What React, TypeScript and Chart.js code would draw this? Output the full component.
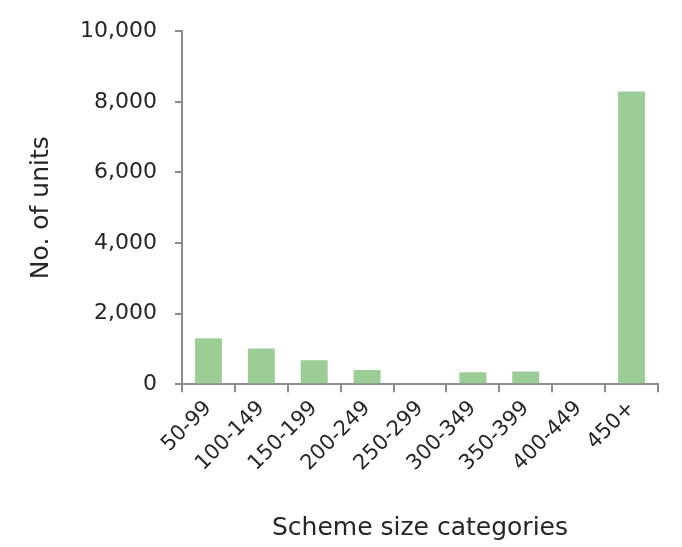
import React, { useEffect, useRef } from "react";
import { Chart, registerables } from "chart.js";

Chart.register(...registerables);

const categories = ["50-99", "100-149", "150-199", "200-249", "250-299", "300-349", "350-399", "400-449", "450+"];
const units = [1300, 1010, 680, 400, 0, 340, 355, 0, 8290];
const yTicks = [0, 2000, 4000, 6000, 8000, 10000];

const FONT = "'DejaVu Sans', sans-serif";
const TEXT = "#262626";
const AXIS = "#8c8c8c";

export default function App() {
  const ref = useRef<HTMLCanvasElement | null>(null);
  useEffect(() => {
    document.body.style.margin = "0";
    if (!ref.current) return;
    const chart = new Chart(ref.current, {
      type: "bar",
      data: {
        labels: categories,
        datasets: [
          {
            data: units,
            backgroundColor: "#9dcd97",
            borderWidth: 0,
            barPercentage: 0.51,
            categoryPercentage: 1,
          },
        ],
      },
      options: {
        responsive: false,
        animation: false,
        layout: { padding: { top: 13, right: 24, left: 26, bottom: 4 } },
        plugins: { legend: { display: false }, tooltip: { enabled: false } },
        scales: {
          x: {
            grid: { display: true, drawOnChartArea: false, drawTicks: true, tickLength: 8, color: AXIS, lineWidth: 2, offset: true },
            border: { display: true, color: AXIS, width: 2 },
            ticks: {
              color: TEXT,
              font: { family: FONT, size: 21 },
              minRotation: 45,
              maxRotation: 45,
              padding: 4,
              autoSkip: false,
            },
            title: {
              display: true,
              text: "Scheme size categories",
              color: TEXT,
              font: { family: FONT, size: 25 },
              padding: { top: 33, bottom: 0 },
            },
          },
          y: {
            min: 0,
            max: 10000,
            afterBuildTicks: (axis: any) => {
              axis.ticks = yTicks.map((v) => ({ value: v }));
            },
            grid: { display: true, drawOnChartArea: false, drawTicks: true, tickLength: 7, color: AXIS, lineWidth: 2 },
            border: { display: true, color: AXIS, width: 2 },
            ticks: {
              color: TEXT,
              font: { family: FONT, size: 22 },
              padding: 18,
              callback: (v: any) => Number(v).toLocaleString("en-US"),
            },
            title: {
              display: true,
              text: "No. of units",
              color: TEXT,
              font: { family: FONT, size: 25 },
              padding: { top: 0, bottom: 6 },
            },
          },
        },
      },
    });
    return () => chart.destroy();
  }, []);
  return (
    <div style={{ width: 682, height: 547 }}>
      <canvas ref={ref} width={682} height={547} style={{ display: "block" }} />
    </div>
  );
}
